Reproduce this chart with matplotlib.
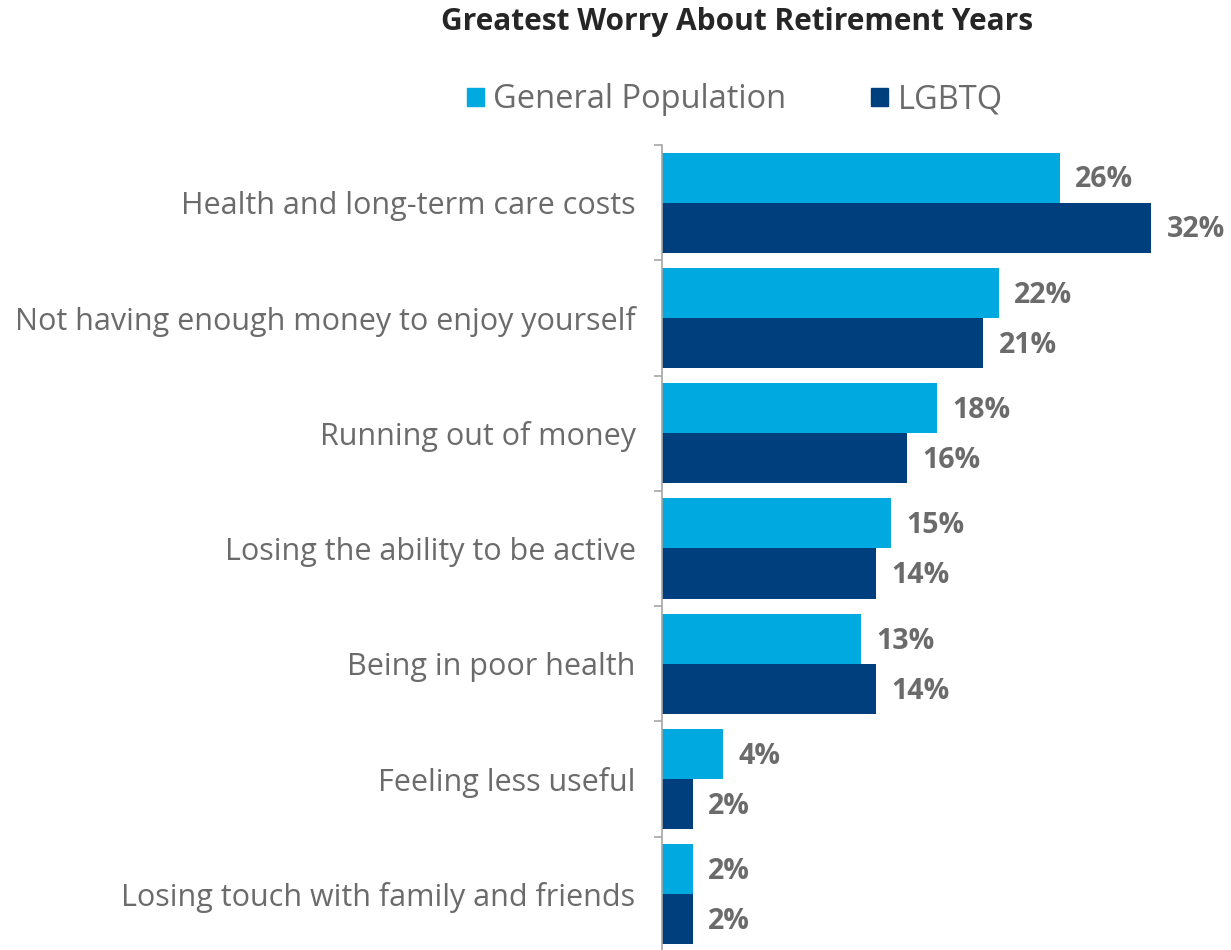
import matplotlib.pyplot as plt
import numpy as np
from matplotlib.patches import Patch

categories = [
    "Health and long-term care costs",
    "Not having enough money to enjoy yourself",
    "Running out of money",
    "Losing the ability to be active",
    "Being in poor health",
    "Feeling less useful",
    "Losing touch with family and friends",
]
general_pop = [26, 22, 18, 15, 13, 4, 2]
lgbtq = [32, 21, 16, 14, 14, 2, 2]

light_blue = "#00A9E0"
dark_blue = "#003F7D"
text_grey = "#6B6B6B"

plt.rcParams['font.family'] = ['Open Sans', 'DejaVu Sans']

fig = plt.figure(figsize=(12.31, 9.5), dpi=100)
ax = fig.add_axes([662/1231, -0.0021, (1231-662)/1231, 0.8495])

y = np.arange(len(categories)) + 0.5
h = 0.434

ax.barh(y - h/2, general_pop, height=h, color=light_blue, label="General Population")
ax.barh(y + h/2, lgbtq, height=h, color=dark_blue, label="LGBTQ")

for yi, v in zip(y - h/2, general_pop):
    ax.text(v + 1.0, yi + 0.02, "{}%".format(v), va="center", ha="left",
            fontsize=20.5, fontweight="bold", color=text_grey)
for yi, v in zip(y + h/2, lgbtq):
    ax.text(v + 1.0, yi + 0.02, "{}%".format(v), va="center", ha="left",
            fontsize=20.5, fontweight="bold", color=text_grey)

ax.set_xlim(0, 37.2)
ax.set_ylim(len(categories), 0)

ax.set_yticks(y)
ax.set_yticklabels(categories, fontsize=22, color=text_grey)
ax.tick_params(axis="y", which="major", length=0, pad=19)
ax.set_yticks(np.arange(len(categories) + 1), minor=True)
ax.tick_params(axis="y", which="minor", length=6, width=1.2, color="#A6A6A6")
ax.set_xticks([])

for s in ["top", "right", "bottom"]:
    ax.spines[s].set_visible(False)
ax.spines["left"].set_color("#A6A6A6")
ax.spines["left"].set_linewidth(1.2)

handles = [Patch(color=light_blue), Patch(color=dark_blue)]
fig.legend(handles, ["General Population", "LGBTQ"], loc="center",
           bbox_to_anchor=(735/1231, 1 - 100/950), ncol=2, frameon=False,
           fontsize=23.5, labelcolor=text_grey, handlelength=0.5, handleheight=0.5,
           handletextpad=0.3, columnspacing=2.6)

fig.suptitle("Greatest Worry About Retirement Years", x=737/1231, y=1 - 22/950,
             va="center", fontsize=21.5, fontweight="bold", color="#262626")

fig.savefig("out.png", dpi=100)
